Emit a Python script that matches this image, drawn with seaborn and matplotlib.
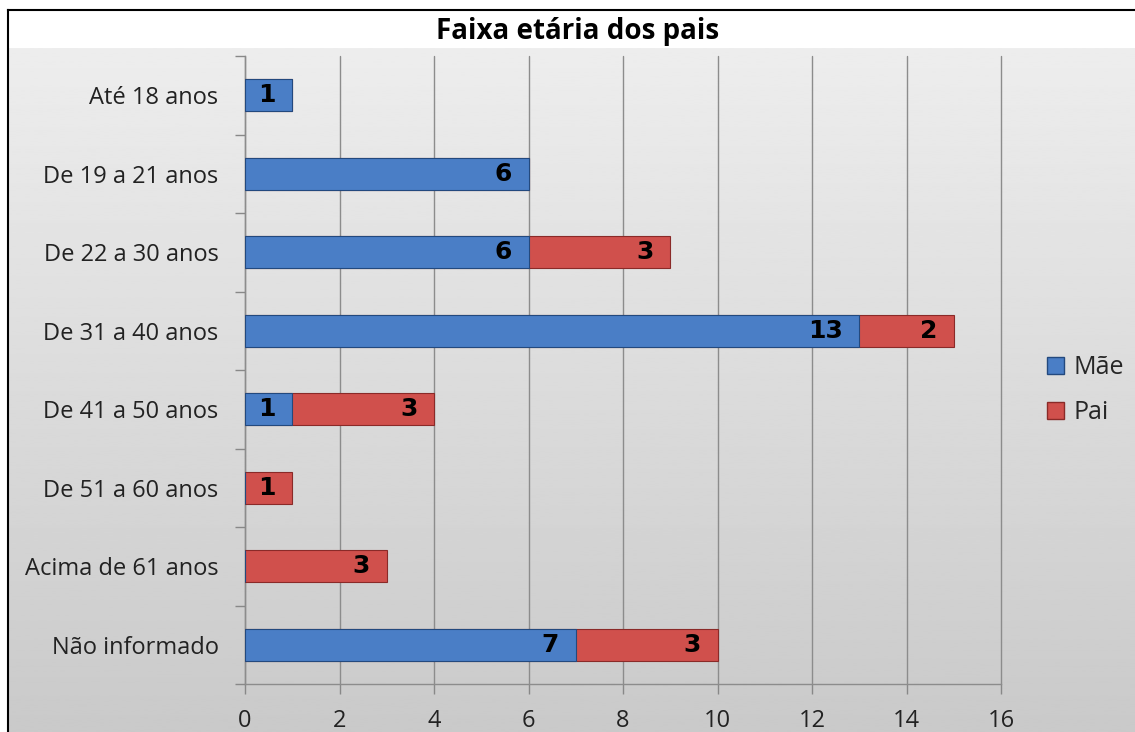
import numpy as np
import pandas as pd
import matplotlib
matplotlib.use("Agg")
import matplotlib.pyplot as plt
import seaborn as sns
from matplotlib.patches import Patch

categorias = ["Até 18 anos", "De 19 a 21 anos", "De 22 a 30 anos", "De 31 a 40 anos",
              "De 41 a 50 anos", "De 51 a 60 anos", "Acima de 61 anos", "Não informado"]
mae = [1, 6, 6, 13, 1, 0, 0, 7]
pai = [0, 0, 3, 2, 3, 1, 3, 3]
x_ticks = [0, 2, 4, 6, 8, 10, 12, 14, 16]
titulo = "Faixa etária dos pais"

AZUL = "#4a7ec6"
VERMELHO = "#d0504c"

sns.set_style("white")
plt.rcParams["font.family"] = ["Open Sans", "DejaVu Sans"]

df = pd.DataFrame({"faixa": categorias, "Mãe": mae, "Pai": pai})
df["total"] = df["Mãe"] + df["Pai"]

W, H = 1135, 732
fig = plt.figure(figsize=(W / 100, H / 100), dpi=100)
fig.patch.set_facecolor("white")

# fundo com moldura preta (topo/esquerda) e gradiente cinza
bg = fig.add_axes([8 / W, 0, 1 - 8 / W, (H - 10) / H])
bg.set_xlim(0, 1)
bg.set_ylim(0, 1)
grad = np.linspace(0.79, 0.93, 256).reshape(-1, 1)
bg.imshow(grad, cmap="gray", vmin=0, vmax=1, aspect="auto", origin="lower",
          extent=[0, 1, 0, (H - 48) / (H - 10)])
bg.set_xticks([])
bg.set_yticks([])
for s in ["right", "bottom"]:
    bg.spines[s].set_visible(False)
for s in ["top", "left"]:
    bg.spines[s].set_color("black")
    bg.spines[s].set_linewidth(1.5)

ax = fig.add_axes([245 / W, (H - 684) / H, (1001 - 245) / W, (684 - 56) / H])
ax.set_facecolor("none")

largura = 32 / 78.5
sns.barplot(data=df, y="faixa", x="total", orient="h", color=VERMELHO, width=largura,
            saturation=1, edgecolor="#8a2a28", linewidth=0.8, ax=ax, zorder=3)
sns.barplot(data=df, y="faixa", x="Mãe", orient="h", color=AZUL, width=largura,
            saturation=1, edgecolor="#23497e", linewidth=0.8, ax=ax, zorder=4)

# rótulos de dados
for i, (m, p) in enumerate(zip(mae, pai)):
    if m > 0:
        ax.annotate(str(m), (m, i), xytext=(-12, 0), textcoords="offset points",
                    ha="right", va="center", fontsize=18, fontweight="heavy",
                    family="DejaVu Sans", color="black", zorder=6)
    if p > 0:
        ax.annotate(str(p), (m + p, i), xytext=(-12, 0), textcoords="offset points",
                    ha="right", va="center", fontsize=18, fontweight="heavy",
                    family="DejaVu Sans", color="black", zorder=6)

ax.set_xlim(0, 16)
ax.set_ylim(len(categorias) - 0.5, -0.5)
ax.set_xticks(x_ticks)
ax.set_xticklabels([str(t) for t in x_ticks], fontsize=17, color="#222222")
ax.set_yticks(range(len(categorias)))
ax.set_yticklabels(categorias, fontsize=17, color="#222222")
ax.set_yticks(np.arange(-0.5, len(categorias), 1), minor=True)
ax.tick_params(axis="y", which="major", left=True, length=0, pad=19)
ax.tick_params(axis="y", which="minor", left=True, length=7, color="#888888", width=1,
               direction="out")
ax.tick_params(axis="x", which="major", bottom=True, length=7, color="#888888", width=1,
               direction="out", pad=11)
ax.set_xlabel("")
ax.set_ylabel("")
ax.grid(axis="x", color="#8c8c8c", linewidth=1, zorder=0)
for gl in ax.get_xgridlines():
    gl.set_clip_on(False)
ax.set_axisbelow(True)
for s in ["top", "right"]:
    ax.spines[s].set_visible(False)
for s in ["left", "bottom"]:
    ax.spines[s].set_color("#8c8c8c")
    ax.spines[s].set_linewidth(1)

fig.text(578 / W, 1 - 32 / H, titulo, ha="center", va="center",
         fontsize=20, fontweight="bold", color="black")

handles = [Patch(facecolor=AZUL, edgecolor="#23497e", label="Mãe"),
           Patch(facecolor=VERMELHO, edgecolor="#8a2a28", label="Pai")]
fig.legend(handles=handles, loc="center left", bbox_to_anchor=(1024 / W, 1 - 390 / H),
           frameon=False, fontsize=18, handlelength=0.7, handleheight=0.7,
           handletextpad=0.4, labelspacing=0.8)

fig.savefig("out.png", dpi=100)
